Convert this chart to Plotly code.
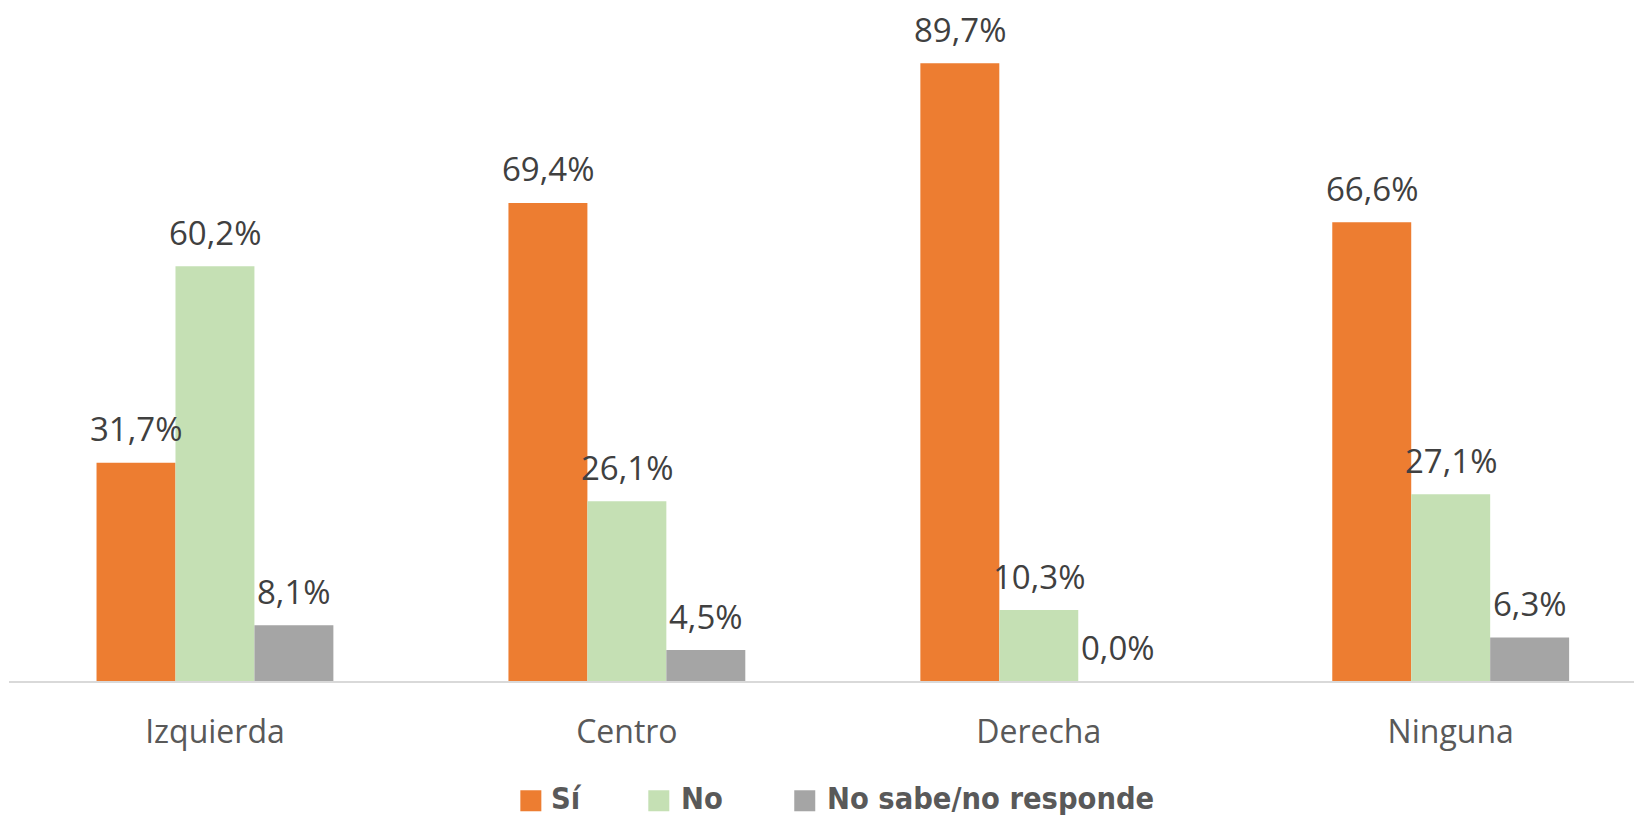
import plotly.graph_objects as go

categories = ["Izquierda", "Centro", "Derecha", "Ninguna"]
series_names = ["Sí", "No", "No sabe/no responde"]
si_values = [31.7, 69.4, 89.7, 66.6]
no_values = [60.2, 26.1, 10.3, 27.1]
nsnr_values = [8.1, 4.5, 0.0, 6.3]
colors = ["#ED7D31", "#C5E0B4", "#A5A5A5"]

all_values = [si_values, no_values, nsnr_values]

W, H = 1634, 818
ML, MT, MB = 8.5, 5.5, 137.3
bargap = 0.425
n_series = len(all_values)
bw = (1 - bargap) / n_series

plot_w = W - ML
plot_h = H - MT - MB


def px_x(px):
    return (px - ML) / plot_w


def px_y(py):
    return (H - MB - py) / plot_h


# legend layout (pixel positions within the figure)
legend_square_left = [520, 648, 794]
legend_text_left = [550, 680, 826]
legend_center = 800.5
legend_text_bottom = 816.5
square_size = 21

fig = go.Figure()
for name, vals, col in zip(series_names, all_values, colors):
    fig.add_trace(go.Bar(x=categories, y=vals, name=name, marker_color=col,
                         marker_line_width=0, showlegend=False))

label_font = dict(family="Open Sans", size=33, color="#404040")
annotations = []
for j, vals in enumerate(all_values):
    for i, v in enumerate(vals):
        annotations.append(dict(
            x=i + (j - (n_series - 1) / 2) * bw, y=v, xref="x", yref="y",
            text=f"{v:.1f}%".replace(".", ","), showarrow=False,
            xanchor="center", yanchor="middle", yshift=34, font=label_font))

legend_font = dict(family="DejaVu Sans Condensed, Roboto", size=30.5, color="#595959", weight="bold")
shapes = []
for name, col, sx, tx in zip(series_names, colors, legend_square_left, legend_text_left):
    shapes.append(dict(type="rect", xref="paper", yref="paper",
                       xsizemode="pixel", ysizemode="pixel",
                       xanchor=px_x(sx), yanchor=px_y(legend_center),
                       x0=0, x1=square_size, y0=-square_size / 2, y1=square_size / 2,
                       fillcolor=col, line=dict(width=0)))
    annotations.append(dict(x=px_x(tx), y=px_y(legend_text_bottom), xref="paper", yref="paper",
                            text=f"<b>{name}</b>", showarrow=False, xanchor="left",
                            yanchor="bottom", borderpad=0, font=legend_font))

fig.update_layout(
    width=W, height=H,
    margin=dict(l=ML, r=0, t=MT, b=MB, pad=0),
    paper_bgcolor="white", plot_bgcolor="white",
    barmode="group", bargap=bargap, bargroupgap=0,
    annotations=annotations,
    shapes=shapes,
    showlegend=False,
    xaxis=dict(type="category", categoryorder="array", categoryarray=categories,
               range=[-0.5, 3.445], showgrid=False, zeroline=False,
               showline=True, linecolor="#D9D9D9", linewidth=1.5,
               ticks="", ticklabelstandoff=22,
               tickfont=dict(family="Open Sans", size=32, color="#595959")),
    yaxis=dict(range=[0, 98], visible=False, showgrid=False, zeroline=False),
)

fig.write_html("out.html", config={"displayModeBar": False},
               post_script="document.body.style.margin='0px';")
